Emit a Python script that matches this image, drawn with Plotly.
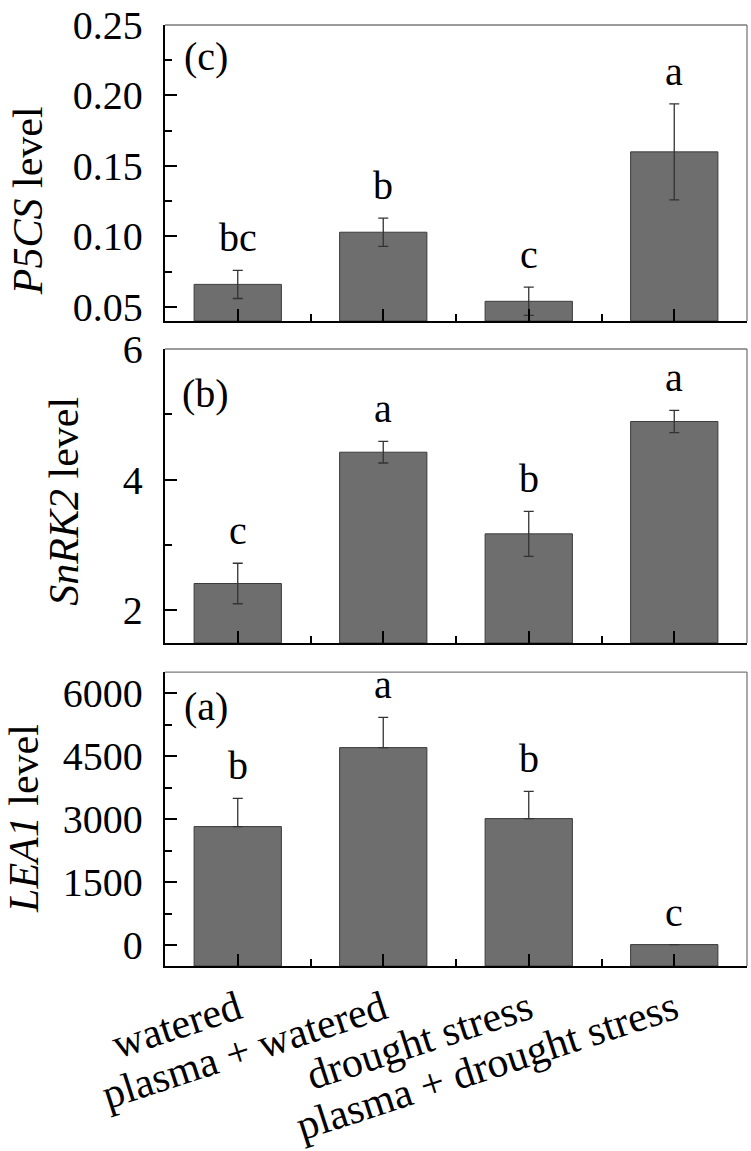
import plotly.graph_objects as go

# ---------------- data ----------------
categories = ["watered", "plasma + watered", "drought stress", "plasma + drought stress"]

p5cs = [0.066, 0.103, 0.054, 0.160]
p5cs_err = [0.010, 0.010, 0.010, 0.034]
p5cs_sig = ["bc", "b", "c", "a"]

snrk2 = [2.41, 4.42, 3.17, 4.89]
snrk2_err = [0.31, 0.165, 0.345, 0.17]
snrk2_sig = ["c", "a", "b", "a"]

lea1 = [2820, 4700, 3010, 10]
lea1_err = [670, 720, 650, 0]
lea1_sig = ["b", "a", "b", "c"]

p5cs_ticks = [0.05, 0.10, 0.15, 0.20, 0.25]
p5cs_ticktext = ["0.05", "0.10", "0.15", "0.20", "0.25"]
snrk2_ticks = [2, 4, 6]
snrk2_ticktext = ["2", "4", "6"]
lea1_ticks = [0, 1500, 3000, 4500, 6000]
lea1_ticktext = ["0", "1500", "3000", "4500", "6000"]

# ---------------- style ----------------
FONT = "Liberation Serif, Times New Roman, serif"
BAR_FILL = "#6e6e6e"
BAR_LINE = "#3c3c3c"
ERR_COLOR = "#333333"

xpos = list(range(len(categories)))

panels = [
    dict(v=p5cs, e=p5cs_err, s=p5cs_sig, rng=[0.04, 0.25], tv=p5cs_ticks, tt=p5cs_ticktext,
         minor=0.025, mtick0=0.025, title="<i>P5CS</i> level", dom=[0.6854, 1.0], lab="(c)",
         lab_y=0.895, tx=-0.235, ty=0.813, up=False),
    dict(v=snrk2, e=snrk2_err, s=snrk2_sig, rng=[1.5, 6.0], tv=snrk2_ticks, tt=snrk2_ticktext,
         minor=1, mtick0=1, title="<i>SnRK2</i> level", dom=[0.3433, 0.6557], lab="(b)",
         lab_y=0.850, tx=-0.174, ty=0.4942, up=False),
    dict(v=lea1, e=lea1_err, s=lea1_sig, rng=[-500, 6500], tv=lea1_ticks, tt=lea1_ticktext,
         minor=750, mtick0=750, title="<i>LEA1</i> level", dom=[0.0, 0.3124], lab="(a)",
         lab_y=0.884, tx=-0.2423, ty=0.1573, up=True),
]

fig = go.Figure()
annotations = []
shapes = []

for i, p in enumerate(panels):
    n = "" if i == 0 else str(i + 1)
    xa, ya = "x" + n, "y" + n
    base = p["rng"][0]
    err = dict(type="data", color=ERR_COLOR, thickness=1.3, width=5, visible=True)
    if p["up"]:
        err.update(symmetric=False, array=p["e"], arrayminus=[0] * len(p["e"]))
    else:
        err.update(array=p["e"])
    fig.add_trace(go.Bar(
        x=xpos, y=[v - base for v in p["v"]], base=base, width=0.6,
        marker=dict(color=BAR_FILL, line=dict(color=BAR_LINE, width=1)),
        error_y=err, xaxis=xa, yaxis=ya, showlegend=False,
    ))
    # significance letters
    for xi, v, e, s in zip(xpos, p["v"], p["e"], p["s"]):
        annotations.append(dict(x=xi, y=v + e, xref=xa, yref=ya, text=s, showarrow=False,
                                yanchor="bottom", xanchor="center", yshift=8,
                                font=dict(family=FONT, size=40, color="black")))
    # panel label
    annotations.append(dict(x=0.0704, y=p["lab_y"], xref=xa + " domain", yref=ya + " domain",
                            text=p["lab"], showarrow=False, xanchor="center", yanchor="middle",
                            font=dict(family=FONT, size=40, color="black")))
    # y title
    annotations.append(dict(x=p["tx"], y=p["ty"], xref="paper", yref="paper", text=p["title"],
                            textangle=-90, showarrow=False, xanchor="center", yanchor="middle",
                            font=dict(family=FONT, size=42, color="black")))
    # top and right frame lines (thin grey)
    shapes.append(dict(type="line", xref=xa + " domain", yref=ya + " domain", x0=0, x1=1, y0=1, y1=1,
                       line=dict(color="#7a7a7a", width=1.3)))
    shapes.append(dict(type="line", xref=xa + " domain", yref=ya + " domain", x0=1, x1=1, y0=0, y1=1,
                       line=dict(color="#7a7a7a", width=1.3)))

    xaxis = dict(domain=[0, 1], range=[-0.5, 3.5], anchor=ya, automargin=False,
                 showline=True, linecolor="black", linewidth=2.2, mirror=False,
                 ticks="inside", ticklen=12, tickwidth=2, tickcolor="black",
                 tickvals=xpos, ticktext=categories if i == 2 else [""] * len(categories),
                 showticklabels=(i == 2), tickangle=-18, ticklabeloverflow="allow",
                 tickfont=dict(family=FONT, size=42, color="black"),
                 minor=dict(ticks="inside", ticklen=7, tickwidth=2, tickcolor="black",
                            tickvals=[0.5, 1.5, 2.5, 3.5]),
                 showgrid=False, zeroline=False, fixedrange=True)
    yaxis = dict(domain=p["dom"], range=p["rng"], anchor=xa, automargin=False,
                 showline=True, linecolor="black", linewidth=2.2, mirror=False,
                 ticks="inside", ticklen=12, tickwidth=2, tickcolor="black",
                 tickvals=p["tv"], ticktext=p["tt"], ticklabelstandoff=12,
                 ticklabeloverflow="allow",
                 tickfont=dict(family=FONT, size=40, color="black"),
                 minor=dict(ticks="inside", ticklen=7, tickwidth=2, tickcolor="black",
                            dtick=p["minor"], tick0=p["mtick0"]),
                 showgrid=False, zeroline=False, fixedrange=True)
    fig.update_layout(**{"xaxis" + n: xaxis, "yaxis" + n: yaxis})

fig.update_layout(
    width=751, height=1151,
    margin=dict(l=165, r=4, t=25, b=185),
    paper_bgcolor="white", plot_bgcolor="white",
    annotations=annotations, shapes=shapes,
    bargap=0.4, showlegend=False,
    font=dict(family=FONT, color="black"),
)

# remove the default page margin so the figure sits at the window's top-left corner
fig.write_html("out.html", config={"displayModeBar": False, "staticPlot": True},
               post_script="document.body.style.margin='0';document.body.style.overflow='hidden';")
